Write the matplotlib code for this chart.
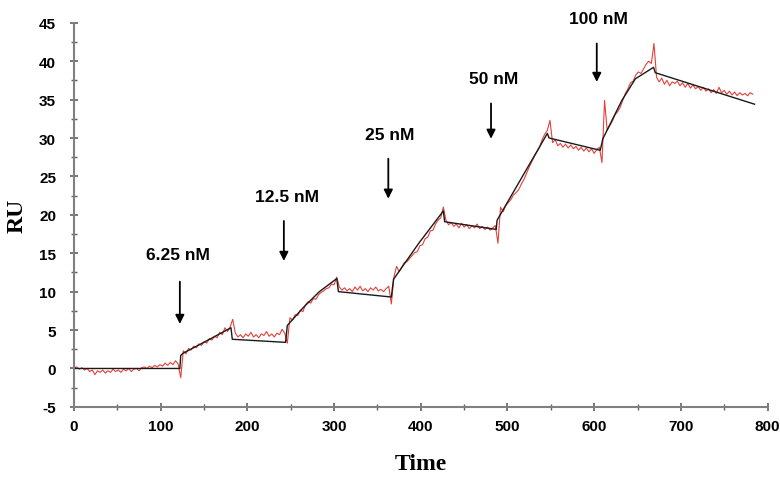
import numpy as np
import matplotlib
matplotlib.use('Agg')
import matplotlib.pyplot as plt
from matplotlib.ticker import MultipleLocator

plt.rcParams['axes.unicode_minus'] = False

# Step 1: Fitted curve (black)
fit_time = [0, 122, 123, 126, 153, 181, 182.5, 244, 246, 265, 283, 303, 305, 366, 368.5,
            397, 426, 427.5, 487, 488, 546, 548, 607, 610, 632, 647.5, 668.5, 670.5, 785]
fit_ru = [0, 0, 1.7, 2.0, 3.6, 5.3, 3.8, 3.4, 5.6, 8.0, 10.0, 11.7, 10.0, 9.3, 11.6,
          16.2, 20.5, 19.1, 18.1, 19.3, 30.6, 30.0, 28.4, 29.9, 34.9, 37.7, 39.2, 38.5, 34.4]

# Step 2: Measured response (red), sampled every 3 s, one list per phase
red_step = 3
red_starts = [0, 123, 186, 246, 306, 369, 429, 489, 549, 609, 672]
red_baseline = [0.1, 0.2, -0.1, 0.1, -0.2, 0.0, -0.4, -0.2, -0.8, -0.3,
                -0.5, -0.2, -0.6, -0.3, -0.5, -0.1, -0.4, -0.2, -0.5, -0.1,
                -0.3, 0.0, -0.4, -0.1, 0.0, -0.3, 0.1, 0.2, 0.0, 0.3,
                0.1, 0.4, 0.2, 0.5, 0.3, 0.7, 0.4, 0.8, 0.5, 1.0, 0.6]
red_assoc1 = [-1.2, 2.3, 1.9, 2.6, 2.4, 2.9, 2.7, 3.2, 3.0, 3.5, 3.3, 3.9, 3.7, 4.2,
              4.0, 4.7, 4.4, 5.3, 4.8, 5.4, 6.4]
red_dissoc1 = [4.6, 4.1, 4.4, 4.0, 4.5, 4.2, 4.7, 4.1, 4.4, 4.0, 4.5, 4.3, 4.8, 4.2,
               4.5, 4.1, 4.6, 4.4, 5.1, 4.6]
red_assoc2 = [3.3, 6.6, 6.3, 7.0, 6.9, 7.6, 7.4, 8.3, 8.7, 8.5, 9.1, 9.0, 9.6, 9.9,
              10.1, 10.4, 10.5, 11.0, 10.9, 11.9]
red_dissoc2 = [10.6, 10.2, 10.5, 10.1, 10.4, 10.0, 10.6, 10.2, 10.7, 10.1, 10.4, 10.0,
               10.5, 10.2, 10.6, 10.1, 10.3, 10.0, 10.4, 10.7, 8.4]
red_assoc3 = [11.9, 13.3, 12.6, 13.2, 13.8, 13.9, 14.3, 14.7, 15.1, 15.2, 16.0, 16.1,
              16.9, 17.1, 17.9, 18.0, 18.8, 19.3, 19.6, 21.0]
red_dissoc3 = [19.3, 18.7, 19.0, 18.5, 18.8, 18.3, 18.9, 18.4, 18.7, 18.2, 18.6, 18.3,
               18.8, 18.2, 18.5, 18.1, 18.4, 18.0, 18.3, 18.6]
red_assoc4 = [16.3, 21.0, 20.4, 21.2, 21.6, 22.0, 22.6, 22.9, 23.3, 24.0, 24.6, 25.4,
              26.2, 26.9, 27.6, 28.2, 28.8, 29.8, 30.5, 31.0]
red_dissoc4 = [32.3, 29.4, 29.8, 29.0, 29.3, 28.8, 29.2, 28.7, 29.1, 28.6, 28.9, 28.4,
               28.8, 28.3, 28.7, 28.2, 28.6, 28.0, 28.5, 28.8]
red_assoc5 = [26.8, 34.9, 31.0, 31.6, 32.2, 33.0, 33.4, 34.0, 34.9, 35.8, 36.4, 37.2,
              37.4, 38.2, 38.6, 38.4, 39.0, 39.6, 40.0, 39.7, 42.3]
red_dissoc5 = [37.9, 37.3, 37.8, 37.0, 37.5, 36.8, 37.3, 37.1, 37.4, 36.8,
               37.2, 36.6, 37.1, 36.5, 36.9, 36.4, 36.7, 36.2, 36.6, 36.1,
               36.4, 35.9, 36.3, 35.8, 36.6, 35.9, 36.2, 35.7, 36.1, 35.6,
               36.0, 35.5, 35.9, 35.6, 35.8, 35.5, 35.9, 35.7]
red_segments = [red_baseline, red_assoc1, red_dissoc1, red_assoc2, red_dissoc2,
                red_assoc3, red_dissoc3, red_assoc4, red_dissoc4, red_assoc5, red_dissoc5]

# Step 3: Injection labels and arrows
conc_labels = ['6.25 nM', '12.5 nM', '25 nM', '50 nM', '100 nM']
label_x = [120, 246, 364, 484, 605]
label_y = [14.8, 22.4, 30.4, 37.7, 45.5]
arrow_x = [122, 242, 362.5, 481, 603]
arrow_tail = [11.3, 19.2, 27.3, 34.5, 42.3]
arrow_tip = [5.8, 14.0, 22.1, 29.9, 37.3]

red_time = np.concatenate([s + red_step * np.arange(len(v)) for s, v in zip(red_starts, red_segments)])
red_ru = np.concatenate(red_segments)

# Step 4: Plot
fig = plt.figure(figsize=(7.8, 4.85), dpi=100)
ax = fig.add_axes([0.095, 0.159, 0.889, 0.792])

ax.plot(red_time, red_ru, color='#e5403a', lw=0.8)
ax.plot(fit_time, fit_ru, color='#1a1a1a', lw=1.0)

for txt, lx, ly, ax_x, tail, tip in zip(conc_labels, label_x, label_y, arrow_x, arrow_tail, arrow_tip):
    ax.text(lx, ly, txt, ha='center', va='center', fontsize=12.5,
            fontweight='bold', family='Liberation Sans')
    ax.annotate('', xy=(ax_x, tip), xytext=(ax_x, tail),
                arrowprops=dict(arrowstyle='-|>', color='black', lw=1.3,
                                mutation_scale=13, shrinkA=0, shrinkB=0))

ax.set_xlim(0, 800)
ax.set_ylim(-5, 45)
ax.xaxis.set_major_locator(MultipleLocator(100))
ax.xaxis.set_minor_locator(MultipleLocator(50))
ax.yaxis.set_major_locator(MultipleLocator(5))
ax.yaxis.set_minor_locator(MultipleLocator(2.5))

for side in ['top', 'right']:
    ax.spines[side].set_visible(False)
for side in ['left', 'bottom']:
    ax.spines[side].set_color('#808080')
    ax.spines[side].set_linewidth(1.5)

ax.tick_params(which='major', direction='inout', length=6, width=1.2, color='#606060')
ax.tick_params(which='minor', direction='inout', length=5, width=1.0, color='#606060')
ax.tick_params(axis='x', pad=6)
ax.tick_params(axis='y', pad=10)
for lab in ax.get_xticklabels() + ax.get_yticklabels():
    lab.set_fontsize(11)
    lab.set_fontweight('bold')
    lab.set_family('Liberation Sans')

ax.set_xlabel('Time', fontsize=17, fontweight='bold', family='Liberation Serif', labelpad=14)
ax.set_ylabel('RU', fontsize=17, fontweight='bold', family='Liberation Serif', labelpad=8)

fig.savefig('out.png', dpi=100)
